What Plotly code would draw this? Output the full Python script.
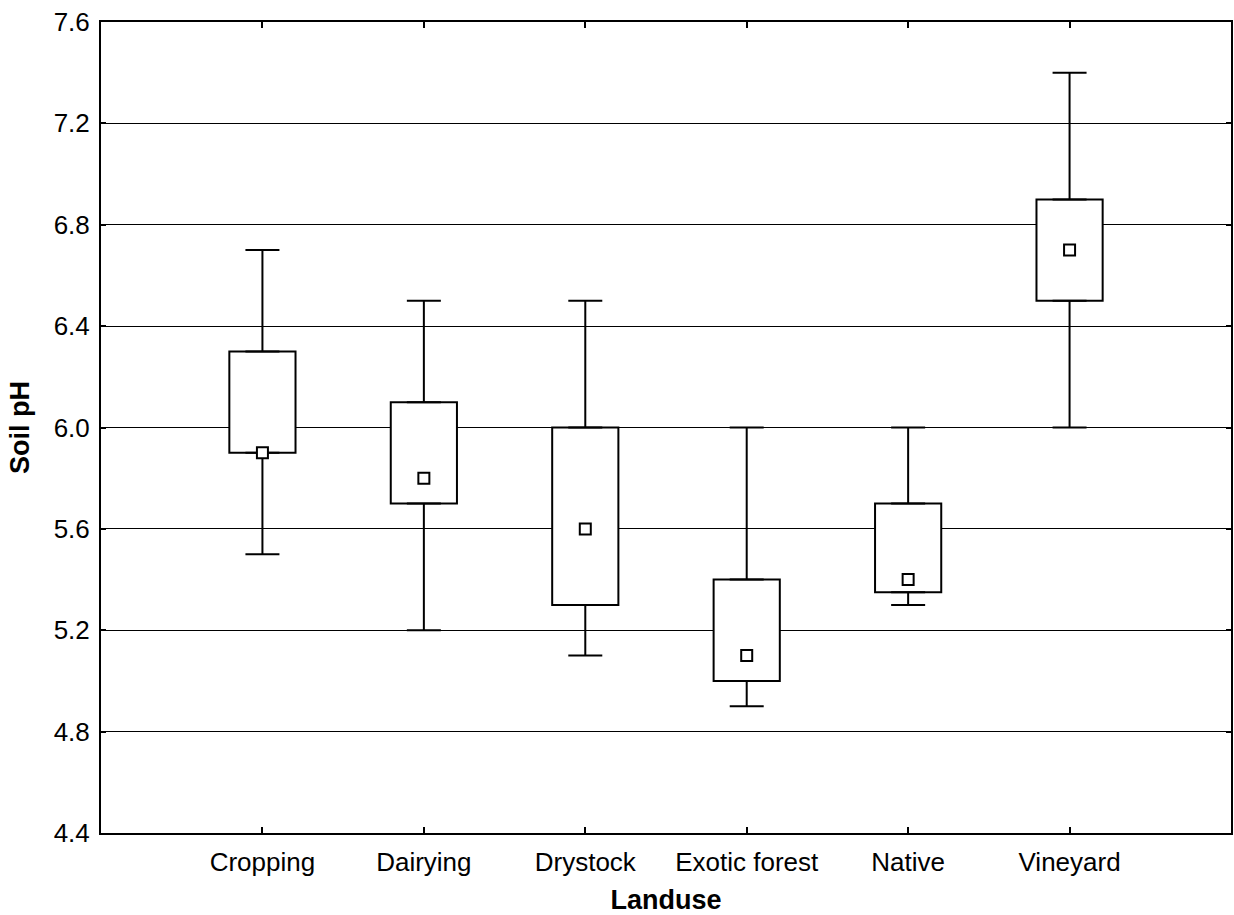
import plotly.graph_objects as go

categories = ["Cropping", "Dairying", "Drystock", "Exotic forest", "Native", "Vineyard"]
whisker_low = [5.5, 5.2, 5.1, 4.9, 5.3, 6.0]
box_low = [5.9, 5.7, 5.3, 5.0, 5.35, 6.5]
center = [5.9, 5.8, 5.6, 5.1, 5.4, 6.7]
box_high = [6.3, 6.1, 6.0, 5.4, 5.7, 6.9]
whisker_high = [6.7, 6.5, 6.5, 6.0, 6.0, 7.4]
y_ticks = [4.4, 4.8, 5.2, 5.6, 6.0, 6.4, 6.8, 7.2, 7.6]

FONT = "Liberation Sans, Arial, sans-serif"

box_height = [h - l for h, l in zip(box_high, box_low)]
upper_len = [w - h for w, h in zip(whisker_high, box_high)]
lower_len = [l - w for l, w in zip(box_low, whisker_low)]
zeros = [0] * len(categories)

fig = go.Figure()
# upper whiskers
fig.add_trace(go.Scatter(
    x=categories, y=box_high, mode="markers",
    marker=dict(size=1, opacity=0),
    error_y=dict(type="data", symmetric=False, array=upper_len, arrayminus=zeros,
                 color="black", thickness=2, width=17),
    showlegend=False, hoverinfo="skip",
))
# lower whiskers
fig.add_trace(go.Scatter(
    x=categories, y=box_low, mode="markers",
    marker=dict(size=1, opacity=0),
    error_y=dict(type="data", symmetric=False, array=zeros, arrayminus=lower_len,
                 color="black", thickness=2, width=17),
    showlegend=False, hoverinfo="skip",
))
# boxes
fig.add_trace(go.Bar(
    x=categories, y=box_height, base=box_low,
    width=0.41,
    marker=dict(color="white", line=dict(color="black", width=2)),
    showlegend=False, hoverinfo="skip",
))
# center markers
fig.add_trace(go.Scatter(
    x=categories, y=center, mode="markers",
    marker=dict(symbol="square", size=11, color="white",
                line=dict(color="black", width=2)),
    showlegend=False, hoverinfo="skip",
))

fig.update_layout(
    width=1234, height=915,
    margin=dict(l=101, r=1, t=22, b=82),
    paper_bgcolor="white",
    plot_bgcolor="white",
    barmode="overlay",
    font=dict(family=FONT, size=26, color="black"),
    xaxis=dict(
        type="category",
        range=[-1, 6],
        showgrid=False,
        showline=True, linecolor="black", linewidth=2, mirror="allticks",
        ticks="inside", ticklen=6, tickwidth=2, tickcolor="black",
        tickfont=dict(family=FONT, size=26),
        ticklabelstandoff=5,
        title=dict(text="<b>Landuse</b>", font=dict(family=FONT, size=27), standoff=14),
    ),
    yaxis=dict(
        range=[4.4, 7.6],
        tickvals=y_ticks,
        ticktext=[f"{v:.1f}" for v in y_ticks],
        showgrid=True, gridcolor="black", gridwidth=1,
        zeroline=False,
        showline=True, linecolor="black", linewidth=2, mirror="allticks",
        ticks="inside", ticklen=5, tickwidth=1.5, tickcolor="black",
        tickfont=dict(family=FONT, size=26),
        ticklabelstandoff=4,
        title=dict(text="<b>Soil pH</b>", font=dict(family=FONT, size=27), standoff=16),
    ),
)

fig.write_html("out.html")
